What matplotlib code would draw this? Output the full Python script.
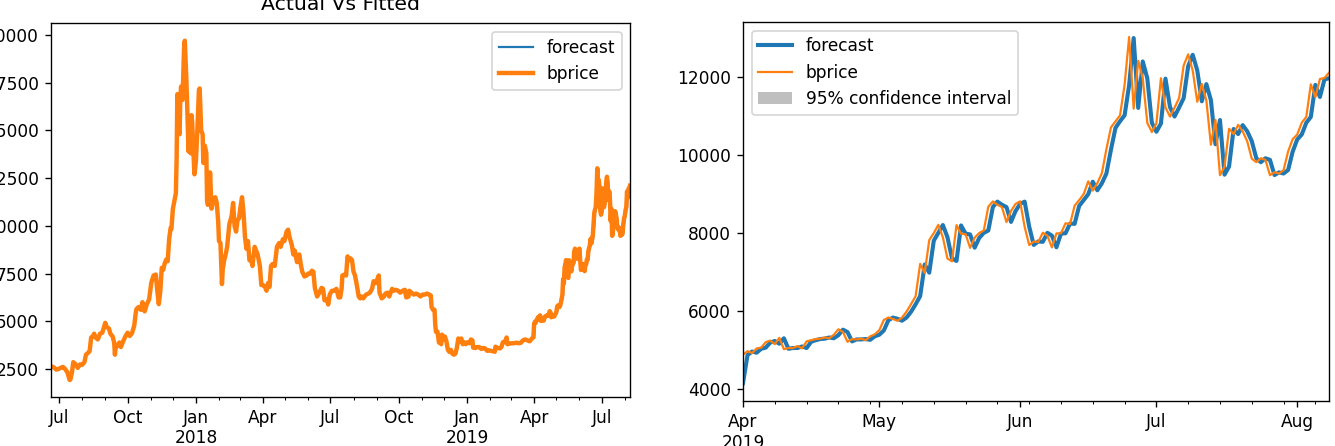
import matplotlib.pyplot as plt
import matplotlib.dates as mdates
from matplotlib.patches import Patch
from matplotlib.ticker import FuncFormatter
import pandas as pd

# bprice history (turning points) Jun 2017 - Mar 2019
hist_dates = [
    "2017-06-20", "2017-06-24", "2017-06-27", "2017-06-30", "2017-07-03", "2017-07-06",
    "2017-07-09", "2017-07-12", "2017-07-15", "2017-07-16", "2017-07-18", "2017-07-20",
    "2017-07-23", "2017-07-26", "2017-07-29", "2017-08-01", "2017-08-04", "2017-08-06",
    "2017-08-09", "2017-08-11", "2017-08-13", "2017-08-15", "2017-08-17", "2017-08-19",
    "2017-08-22", "2017-08-25", "2017-08-28", "2017-09-01", "2017-09-03", "2017-09-06",
    "2017-09-08", "2017-09-11", "2017-09-13", "2017-09-14", "2017-09-15", "2017-09-17",
    "2017-09-20", "2017-09-22", "2017-09-25", "2017-09-28", "2017-10-01", "2017-10-04",
    "2017-10-07", "2017-10-10", "2017-10-12", "2017-10-13", "2017-10-16", "2017-10-19",
    "2017-10-21", "2017-10-24", "2017-10-27", "2017-10-30", "2017-11-01", "2017-11-02",
    "2017-11-05", "2017-11-08", "2017-11-10", "2017-11-12", "2017-11-14", "2017-11-16",
    "2017-11-18", "2017-11-20", "2017-11-22", "2017-11-24", "2017-11-26", "2017-11-28",
    "2017-11-29", "2017-12-01", "2017-12-03", "2017-12-05", "2017-12-06", "2017-12-07",
    "2017-12-08", "2017-12-09", "2017-12-10", "2017-12-11", "2017-12-12", "2017-12-14",
    "2017-12-16", "2017-12-17", "2017-12-19", "2017-12-20", "2017-12-22", "2017-12-23",
    "2017-12-25", "2017-12-26", "2017-12-27", "2017-12-28", "2017-12-30",
    "2018-01-01", "2018-01-03", "2018-01-05", "2018-01-06", "2018-01-07", "2018-01-08",
    "2018-01-10", "2018-01-11", "2018-01-13", "2018-01-15", "2018-01-16", "2018-01-17",
    "2018-01-19", "2018-01-20", "2018-01-22", "2018-01-24", "2018-01-27", "2018-01-29",
    "2018-01-31", "2018-02-01", "2018-02-03", "2018-02-05", "2018-02-06", "2018-02-08",
    "2018-02-10", "2018-02-12", "2018-02-15", "2018-02-18", "2018-02-20", "2018-02-22",
    "2018-02-24", "2018-02-26", "2018-02-28", "2018-03-02", "2018-03-04", "2018-03-06",
    "2018-03-08", "2018-03-10", "2018-03-12", "2018-03-14", "2018-03-16", "2018-03-18",
    "2018-03-20", "2018-03-21", "2018-03-23", "2018-03-25", "2018-03-28", "2018-03-30",
    "2018-04-01", "2018-04-04", "2018-04-06", "2018-04-08", "2018-04-10", "2018-04-12",
    "2018-04-14", "2018-04-17", "2018-04-20", "2018-04-23", "2018-04-25", "2018-04-28",
    "2018-04-30", "2018-05-03", "2018-05-05", "2018-05-07", "2018-05-10", "2018-05-12",
    "2018-05-14", "2018-05-17", "2018-05-20", "2018-05-22", "2018-05-24", "2018-05-27",
    "2018-05-30", "2018-06-01", "2018-06-04", "2018-06-06", "2018-06-08", "2018-06-10",
    "2018-06-13", "2018-06-16", "2018-06-19", "2018-06-21", "2018-06-23", "2018-06-26",
    "2018-06-28", "2018-06-30", "2018-07-03", "2018-07-06", "2018-07-09", "2018-07-12",
    "2018-07-14", "2018-07-16", "2018-07-17", "2018-07-20", "2018-07-22", "2018-07-24",
    "2018-07-26", "2018-07-28", "2018-07-30", "2018-08-01", "2018-08-03", "2018-08-05",
    "2018-08-08", "2018-08-10", "2018-08-12", "2018-08-14", "2018-08-16", "2018-08-18",
    "2018-08-21", "2018-08-23", "2018-08-26", "2018-08-28", "2018-08-31", "2018-09-02",
    "2018-09-04", "2018-09-05", "2018-09-08", "2018-09-11", "2018-09-13", "2018-09-16",
    "2018-09-18", "2018-09-20", "2018-09-22", "2018-09-24", "2018-09-27", "2018-09-30",
    "2018-10-03", "2018-10-06", "2018-10-09", "2018-10-11", "2018-10-14", "2018-10-15",
    "2018-10-18", "2018-10-21", "2018-10-24", "2018-10-27", "2018-10-30", "2018-11-02",
    "2018-11-05", "2018-11-08", "2018-11-11", "2018-11-13", "2018-11-14", "2018-11-16",
    "2018-11-18", "2018-11-19", "2018-11-20", "2018-11-22", "2018-11-24", "2018-11-25",
    "2018-11-27", "2018-11-28", "2018-11-30", "2018-12-02", "2018-12-04", "2018-12-06",
    "2018-12-08", "2018-12-10", "2018-12-12", "2018-12-14", "2018-12-16", "2018-12-18",
    "2018-12-20", "2018-12-22", "2018-12-24", "2018-12-26", "2018-12-28", "2018-12-30",
    "2019-01-01", "2019-01-04", "2019-01-06", "2019-01-08", "2019-01-09", "2019-01-12",
    "2019-01-14", "2019-01-17", "2019-01-20", "2019-01-22", "2019-01-25", "2019-01-28",
    "2019-01-30", "2019-02-02", "2019-02-05", "2019-02-07", "2019-02-08", "2019-02-11",
    "2019-02-14", "2019-02-16", "2019-02-18", "2019-02-21", "2019-02-23", "2019-02-24",
    "2019-02-27", "2019-03-02", "2019-03-05", "2019-03-08", "2019-03-11", "2019-03-14",
    "2019-03-17", "2019-03-20", "2019-03-23", "2019-03-26", "2019-03-29", "2019-03-31",
]
hist_price = [
    2650, 2580, 2470, 2500, 2560, 2610,
    2500, 2330, 1930, 1940, 2280, 2860,
    2750, 2560, 2740, 2720, 2860, 3250,
    3350, 3440, 4150, 4200, 4350, 4150,
    4050, 4350, 4400, 4920, 4700, 4620,
    4340, 4200, 3870, 3250, 3640, 3700,
    3890, 3650, 3950, 4200, 4400, 4230,
    4380, 4780, 5430, 5640, 5750, 5600,
    6000, 5520, 5900, 6150, 6750, 7030,
    7400, 7450, 6600, 5900, 6550, 7800,
    7700, 8040, 8230, 8150, 9330, 9900,
    9840, 10900, 11300, 11700, 13500, 16900,
    16400, 15000, 14800, 16700, 17300, 16600,
    19300, 19700, 17800, 16600, 13900, 14500,
    13800, 15800, 15400, 14400, 12700,
    13400, 15100, 17100, 17200, 16200, 15000,
    14800, 13300, 14200, 13800, 11300, 11100,
    11500, 12800, 10900, 11300, 11500, 11200,
    10200, 9200, 9100, 6950, 7700, 8200,
    8500, 8900, 10100, 10500, 11200, 10000,
    9700, 10300, 10400, 11000, 11500, 10700,
    9400, 8800, 9200, 8200, 8300, 7900,
    8600, 8900, 8700, 8500, 7900, 6900,
    6900, 6800, 6600, 7000, 6800, 7900,
    8000, 7900, 8900, 9100, 8900, 9300,
    9200, 9700, 9800, 9400, 9000, 8500,
    8700, 8100, 8500, 8000, 7600, 7350,
    7400, 7500, 7500, 7650, 7600, 6750,
    6300, 6500, 6750, 6700, 6100, 6150,
    5880, 6400, 6600, 6600, 6700, 6250,
    6250, 6700, 7400, 7450, 7400, 8400,
    8200, 8300, 8200, 7600, 7400, 7000,
    6300, 6200, 6300, 6200, 6300, 6400,
    6450, 6500, 6700, 7100, 7000, 7200,
    7400, 6500, 6200, 6300, 6450, 6500,
    6300, 6500, 6700, 6600, 6650, 6600,
    6500, 6600, 6650, 6250, 6300, 6600,
    6500, 6400, 6450, 6400, 6300, 6400,
    6400, 6450, 6400, 6350, 5750, 5600,
    5600, 4800, 4450, 4450, 3880, 4000,
    3800, 4300, 4050, 4200, 3950, 3500,
    3400, 3500, 3300, 3250, 3300, 3600,
    4100, 3950, 4100, 3800, 3900, 3800,
    3900, 3850, 4050, 4000, 3620, 3600,
    3650, 3650, 3550, 3600, 3580, 3450,
    3480, 3450, 3430, 3400, 3670, 3600,
    3580, 3650, 3900, 3950, 4150, 3800,
    3830, 3850, 3850, 3880, 3850, 3870,
    4000, 4050, 4000, 3950, 4100, 4150,
]

# daily Apr 1 - Aug 8 2019
recent_start = "2019-04-01"
recent_bprice = [
    4880, 4970, 4920, 5040, 5060, 5200, 5240, 5150, 5310, 5020,
    5050, 5050, 5100, 5040, 5220, 5250, 5280, 5290, 5320, 5300,
    5390, 5530, 5460, 5210, 5280, 5270, 5290, 5250, 5350, 5400,
    5505, 5768, 5831, 5795, 5747, 5829, 5982, 6175, 6378, 7205,
    6972, 7815, 7995, 8206, 7885, 7343, 7271, 8198, 7979, 7964,
    7615, 7877, 7996, 8060, 8669, 8805, 8720, 8660, 8276, 8560, 8741,
    8808, 8155, 7688, 7776, 7768, 8003, 7927, 7627, 7986, 7990,
    8245, 8228, 8694, 8838, 8994, 9320, 9082, 9274, 9529, 10145,
    10701, 10855, 11011, 11790, 13017, 11182, 12407, 11959, 10817, 10583,
    10801, 11961, 11215, 10978, 11208, 11451, 12285, 12573, 12156, 11358,
    11815, 11392, 10256, 10895, 9477, 9693, 10666, 10530, 10767, 10599,
    10343, 9900, 9811, 9911, 9871, 9477, 9552, 9519, 9607, 10085, 10399,
    10518, 10821, 10970, 11805, 11478, 11941, 11966, 12100,
]
recent_forecast = [
    4150, 4870, 4960, 4930, 5030, 5060, 5190, 5230, 5160, 5300,
    5030, 5050, 5050, 5090, 5050, 5210, 5250, 5280, 5290, 5320,
    5300, 5380, 5520, 5460, 5220, 5270, 5270, 5280, 5260, 5350,
    5390, 5500, 5760, 5830, 5800, 5750, 5830, 5980, 6170, 6380,
    7190, 6980, 7800, 8000, 8200, 7890, 7350, 7280, 8190, 7980,
    7960, 7620, 7870, 8000, 8060, 8660, 8800, 8720, 8660, 8280, 8560,
    8740, 8800, 8160, 7690, 7780, 7770, 8000, 7930, 7630, 7980,
    7990, 8240, 8230, 8690, 8840, 8990, 9310, 9090, 9270, 9520,
    10130, 10690, 10860, 11010, 11780, 12990, 11200, 12390, 11960, 10820,
    10590, 10800, 11950, 11220, 10980, 11210, 11450, 12270, 12560, 12160,
    11370, 11810, 11400, 10270, 10890, 9490, 9700, 10660, 10530, 10760,
    10600, 10350, 9910, 9810, 9910, 9870, 9480, 9550, 9520, 9610, 10080,
    10390, 10520, 10820, 10970, 11790, 11480, 11930, 11960,
]

recent_dates = pd.date_range(recent_start, periods=len(recent_bprice), freq="D")
all_dates = list(pd.to_datetime(hist_dates)) + list(recent_dates)
all_bprice = hist_price + recent_bprice
all_forecast = hist_price + recent_forecast

DPI = 122.4
fig = plt.figure(figsize=(1335 / DPI, 446 / DPI), dpi=DPI)
ax1 = fig.add_axes([51 / 1335, (446 - 396.7) / 446, 579 / 1335, 373.4 / 446])
ax2 = fig.add_axes([743 / 1335, (446 - 401) / 446, 586 / 1335, 379 / 446])

# left: actual vs fitted
ax1.plot(all_dates, all_forecast, color="#1f77b4", lw=1.3, label="forecast")
ax1.plot(all_dates, all_bprice, color="#ff7f0e", lw=2.6, label="bprice")
ax1.set_title("Actual Vs Fitted", pad=8)
ax1.set_xlim(pd.Timestamp("2017-06-20"), pd.Timestamp("2019-08-08"))
ax1.set_ylim(1049, 20613)
ax1.set_yticks([2500, 5000, 7500, 10000, 12500, 15000, 17500, 20000])
ax1.xaxis.set_major_locator(mdates.MonthLocator(bymonth=[1, 4, 7, 10]))
ax1.xaxis.set_minor_locator(mdates.MonthLocator())


def left_fmt(x, pos=None):
    d = mdates.num2date(x)
    if d.month == 1:
        return d.strftime("%b") + "\n" + str(d.year)
    return d.strftime("%b")


ax1.xaxis.set_major_formatter(FuncFormatter(left_fmt))
ax1.legend(loc="upper right")

# right: recent months
ax2.plot(recent_dates, recent_forecast, color="#1f77b4", lw=2.4, label="forecast")
ax2.plot(recent_dates, recent_bprice, color="#ff7f0e", lw=1.3, label="bprice")
ax2.set_xlim(pd.Timestamp("2019-04-01"), pd.Timestamp("2019-08-08"))
ax2.set_ylim(3693, 13401)
ax2.set_yticks([4000, 6000, 8000, 10000, 12000])
ax2.xaxis.set_major_locator(mdates.MonthLocator())
ax2.xaxis.set_minor_locator(mdates.WeekdayLocator(byweekday=mdates.MO))


def right_fmt(x, pos=None):
    d = mdates.num2date(x)
    if d.month == 4:
        return d.strftime("%b") + "\n" + str(d.year)
    return d.strftime("%b")


ax2.xaxis.set_major_formatter(FuncFormatter(right_fmt))
handles, labels = ax2.get_legend_handles_labels()
handles.append(Patch(facecolor="gray", alpha=0.5))
labels.append("95% confidence interval")
ax2.legend(handles, labels, loc="upper left")

fig.savefig("out.png", dpi=DPI)
